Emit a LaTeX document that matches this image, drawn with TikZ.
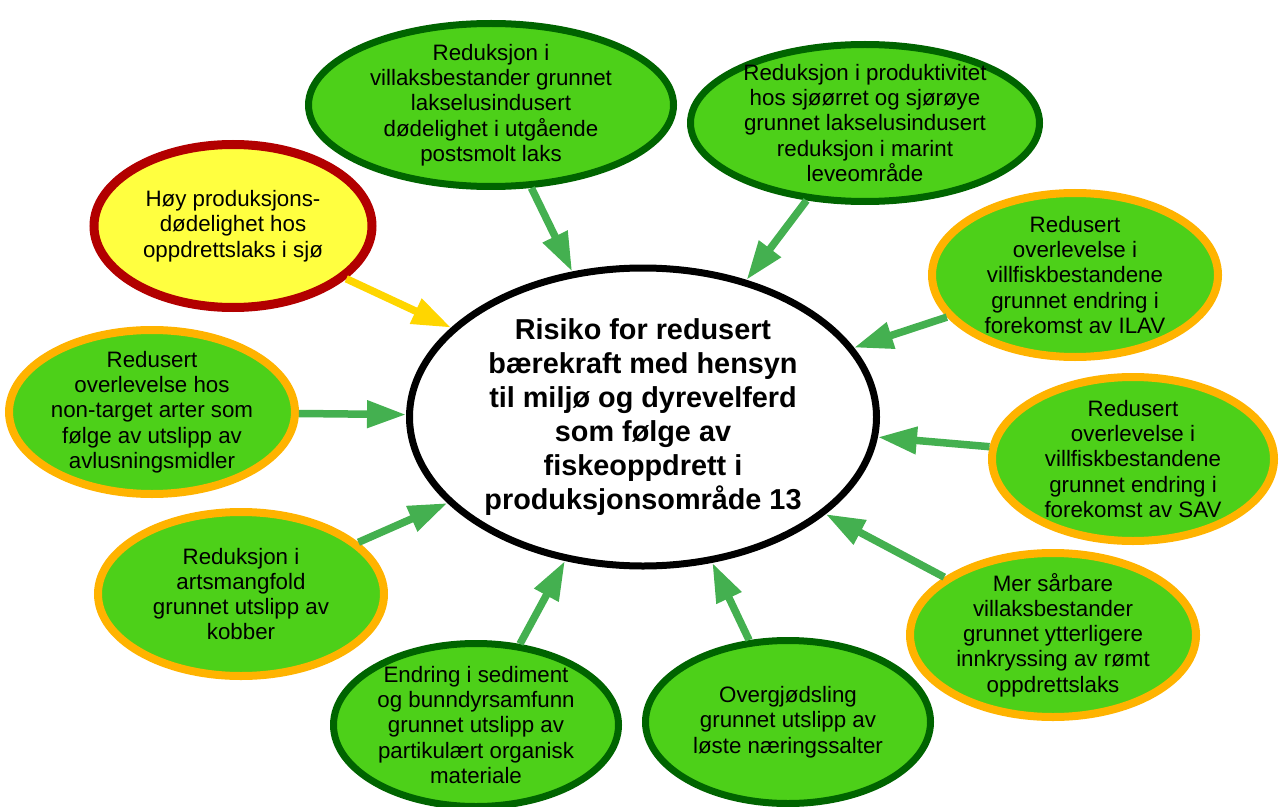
\documentclass[tikz,border=0pt]{standalone}
\usepackage{fontspec}
\setmainfont{Liberation Sans}
\definecolor{LeafGreen}{RGB}{77,208,25}
\definecolor{DarkRim}{RGB}{0,100,0}
\definecolor{AmberRim}{RGB}{255,179,0}
\definecolor{RedRim}{RGB}{178,0,0}
\definecolor{SoftYellow}{RGB}{255,255,64}
\definecolor{ArrowGreen}{RGB}{68,176,80}
\definecolor{ArrowYellow}{RGB}{255,214,0}
\usetikzlibrary{shapes.geometric,arrows.meta}

\begin{document}
\begin{tikzpicture}[>={Triangle[length=0.78cm,width=0.52cm]},
      ell/.style={ellipse,align=center,inner xsep=0pt,inner ysep=-6pt,
                  font=\fontsize{12.7}{14.4}\selectfont,fill=LeafGreen},
      grn/.style={ell,draw=DarkRim,line width=0.14cm,minimum width=5.70cm,minimum height=3.26cm},
      org/.style={ell,draw=AmberRim,line width=0.16cm,minimum width=5.72cm,minimum height=3.28cm},
      hi/.style={ell,draw=RedRim,fill=SoftYellow,line width=0.18cm,minimum width=5.56cm,minimum height=3.26cm},
      core/.style={ellipse,draw=black,fill=white,line width=0.14cm,align=center,inner sep=0pt,
                   minimum width=9.34cm,minimum height=5.96cm,
                   font=\fontsize{16.4}{19.4}\selectfont\bfseries},
      arr/.style={->,draw=ArrowGreen,fill=ArrowGreen,line width=0.15cm}]
    \useasboundingbox (0,0) rectangle (25.58,-16.14);
    % centre
    \node[core] (core) at (12.86,-8.34) {Risiko for redusert\\bærekraft med hensyn\\til miljø og dyrevelferd\\som følge av\\fiskeoppdrett i\\produksjonsområde 13};
    % causes
    \node[grn,minimum width=7.30cm] (salmon) at (9.82,-2.10) {Reduksjon i\\villaksbestander grunnet\\lakselusindusert\\dødelighet i utgående\\postsmolt laks};
    \node[grn,minimum width=6.98cm,minimum height=3.14cm] (trout) at (17.30,-2.46) {Reduksjon i produktivitet\\hos sjøørret og sjørøye\\grunnet lakselusindusert\\reduksjon i marint\\leveområde};
    \node[hi] (mort) at (4.66,-4.52) {Høy produksjons-\\dødelighet hos\\oppdrettslaks i sjø};
    \node[org] (ilav) at (21.50,-5.50) {Redusert\\overlevelse i\\villfiskbestandene\\grunnet endring i\\forekomst av ILAV};
    \node[org,minimum width=5.68cm] (lice) at (3.04,-8.24) {Redusert\\overlevelse hos\\non-target arter som\\følge av utslipp av\\avlusningsmidler};
    \node[org,minimum width=5.64cm] (sav) at (22.66,-9.18) {Redusert\\overlevelse i\\villfiskbestandene\\grunnet endring i\\forekomst av SAV};
    \node[org] (copper) at (4.82,-11.88) {Reduksjon i\\artsmangfold\\grunnet utslipp av\\kobber};
    \node[org] (escape) at (21.06,-12.70) {Mer sårbare\\villaksbestander\\grunnet ytterligere\\innkryssing av rømt\\oppdrettslaks};
    \node[grn] (sediment) at (9.52,-14.50) {Endring i sediment\\og bunndyrsamfunn\\grunnet utslipp av\\partikulært organisk\\materiale};
    \node[grn] (nutri) at (15.76,-14.44) {Overgjødsling\\grunnet utslipp av\\løste næringssalter};
    % arrows
    \draw[arr] (salmon) -- (core);
    \draw[arr] (trout) -- (core);
    \draw[arr,draw=ArrowYellow,fill=ArrowYellow] (mort) -- (core);
    \draw[arr] (ilav) -- (core);
    \draw[arr] (lice) -- (core);
    \draw[arr] (sav) -- (core);
    \draw[arr] (copper) -- (core);
    \draw[arr] (escape) -- (core);
    \draw[arr] (sediment) -- (core);
    \draw[arr] (nutri) -- (core);
\end{tikzpicture}
\end{document}
